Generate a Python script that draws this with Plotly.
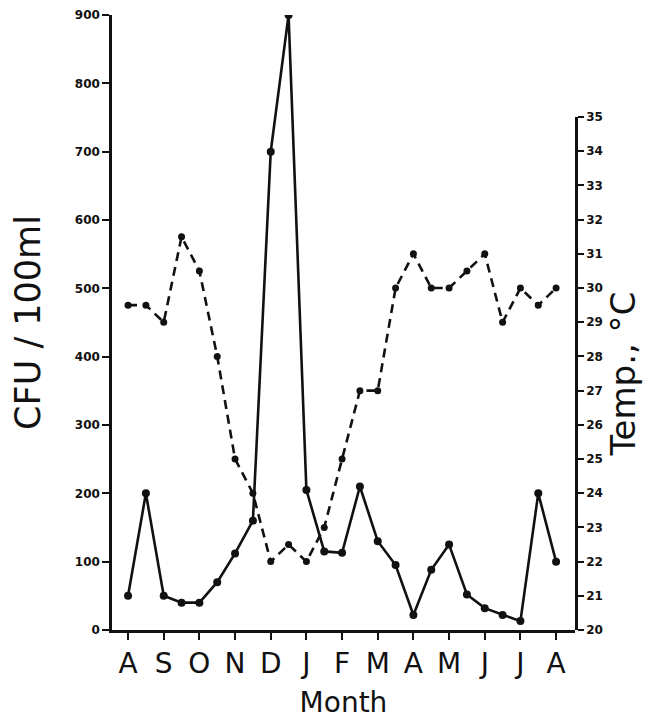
import plotly.graph_objects as go

# Month tick labels (Aug .. Aug)
month_labels = ["A", "S", "O", "N", "D", "J", "F", "M", "A", "M", "J", "J", "A"]
month_pos = [0, 1, 2, 3, 4, 5, 6, 7, 8, 9, 10, 11, 12]

# Semi-monthly sampling positions (in months from the first August)
sample_pos = [0, 0.5, 1, 1.5, 2, 2.5, 3, 3.5, 4, 4.5, 5, 5.5, 6, 6.5,
              7, 7.5, 8, 8.5, 9, 9.5, 10, 10.5, 11, 11.5, 12]

# CFU / 100 ml (solid line, left axis)
cfu = [50, 200, 50, 40, 40, 70, 112, 160, 700, 900, 205, 115, 113, 210,
       130, 95, 22, 88, 125, 52, 32, 22, 13, 200, 100]

# Temperature, deg C (dashed line, right axis)
temp = [29.5, 29.5, 29, 31.5, 30.5, 28, 25, 24, 22, 22.5, 22, 23, 25, 27,
        27, 30, 31, 30, 30, 30.5, 31, 29, 30, 29.5, 30]

cfu_ticks = [0, 100, 200, 300, 400, 500, 600, 700, 800, 900]
temp_ticks = list(range(20, 36))

INK = "#111111"

fig = go.Figure()
fig.add_trace(go.Scatter(
    x=sample_pos, y=cfu, mode="lines+markers",
    line=dict(color=INK, width=2.6),
    marker=dict(color=INK, size=8, symbol="circle"),
    xaxis="x", yaxis="y", showlegend=False,
))
fig.add_trace(go.Scatter(
    x=sample_pos, y=temp, mode="lines+markers",
    line=dict(color=INK, width=2.6, dash="9px,6px"),
    marker=dict(color=INK, size=7, symbol="circle"),
    xaxis="x", yaxis="y2", showlegend=False,
))

tick_font = dict(family="DejaVu Sans", size=12, color=INK, weight="bold")

fig.update_layout(
    width=649, height=711,
    margin=dict(l=104, r=82, t=7, b=89, autoexpand=False),
    paper_bgcolor="white", plot_bgcolor="rgba(0,0,0,0)",
    xaxis=dict(
        range=[-0.45, 12.53], tickmode="array", tickvals=month_pos,
        ticktext=month_labels, ticks="outside", ticklen=7, tickwidth=2,
        tickcolor=INK, showline=True, linecolor=INK, linewidth=2.5,
        showgrid=False, zeroline=False, anchor="y",
        tickfont=dict(family="DejaVu Sans", size=28, color=INK),
        title=dict(text="Month", font=dict(family="DejaVu Sans", size=28, color=INK), standoff=17),
    ),
    yaxis=dict(
        range=[0, 900], tickmode="array", tickvals=cfu_ticks,
        ticks="outside", ticklen=7, tickwidth=2, tickcolor=INK,
        showline=True, linecolor=INK, linewidth=2.5, showgrid=False,
        zeroline=False, domain=[0, 1], anchor="x", tickfont=tick_font,
        title=dict(text="CFU / 100ml", font=dict(family="DejaVu Sans", size=35, color=INK), standoff=28),
    ),
    yaxis2=dict(
        range=[20, 35], tickmode="array", tickvals=temp_ticks,
        ticks="outside", ticklen=6, tickwidth=2, tickcolor=INK,
        showline=True, linecolor=INK, linewidth=2.5, showgrid=False,
        zeroline=False, domain=[0, 0.834], anchor="x", side="right",
        tickfont=tick_font,
        title=dict(text="Temp., °C", font=dict(family="DejaVu Sans", size=34, color=INK), standoff=6),
    ),
)

fig.write_html("out.html")
